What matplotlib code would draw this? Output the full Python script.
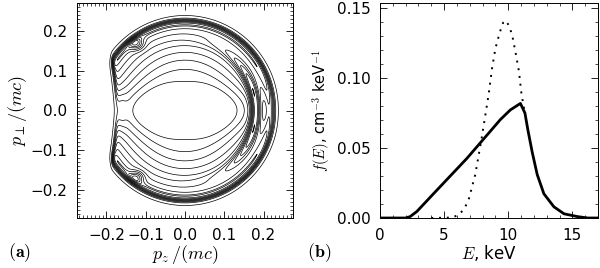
import numpy as np
import matplotlib
matplotlib.use('Agg')
import matplotlib.pyplot as plt
from matplotlib.ticker import MultipleLocator

plt.rcParams['mathtext.fontset'] = 'cm'
plt.rcParams['font.family'] = ['DejaVu Sans']

# ---- panel (b): energy distributions ----
E_solid = [0, 2.0, 2.35, 2.87, 4.17, 5.48, 6.78, 8.08, 9.39, 10.17, 10.95, 11.3,
           11.55, 11.87, 12.26, 12.78, 13.56, 14.35, 15.4, 16.2, 17]
f_solid = [0, 0, 0.001, 0.0046, 0.0173, 0.030, 0.0426, 0.0564, 0.0703, 0.0772, 0.0818, 0.075,
           0.062, 0.047, 0.031, 0.0173, 0.008, 0.003, 0.001, 0, 0]

E_dot = [4.0, 5.5, 6.0, 6.52, 6.9, 7.43, 7.96, 8.48, 8.74, 9.0, 9.34, 9.6, 9.8,
         10.04, 10.3, 10.56, 10.83, 11.03, 11.3]
f_dot = [0, 0.0003, 0.0016, 0.0057, 0.0127, 0.031, 0.0588, 0.0887, 0.107, 0.121, 0.1325, 0.1394, 0.141,
         0.1376, 0.131, 0.1187, 0.105, 0.0887, 0.075]

# ---- panel (a): model of the electron distribution in momentum space ----
p_scale = 0.073                          # radial scale of the isotropic part
floor = 0.6                              # value at the centre
axis_dip = (2.3, 0.055, 0.06)            # depth, pz width, p_perp width
left_valley = (1.8, -0.155, 0.01, 0.045)  # depth, pz centre, pz width, p_perp width
p_max, rim_w = 0.226, 0.007              # outer shell edge
pz_cut, cut_bend, cut_w = -0.175, 0.013, 0.005
crescent = (0.18, 0.012, 0.8, 8.0)       # p0, width in p, width in theta, amp
ring = (0.214, 0.006, 0.8)
teardrop = (-0.124, 0.168, 0.018, 0.015, 4.0)
levels = [0.3] + [k + floor for k in range(1, 14)]

pz = np.linspace(-0.275, 0.275, 600)
pp = np.linspace(-0.27, 0.27, 600)
PZ, PP = np.meshgrid(pz, pp)
P = np.hypot(PZ, PP) + 1e-9
TH = np.arccos(PZ / P)

base = (P / p_scale)**2
d, wz, wq = axis_dip
dip = d * (1 - np.exp(-(PZ / wz)**2)) * np.exp(-(PP / wq)**2)
v, zc, zw, vq = left_valley
valley = v * 0.5 * (1 + np.tanh((zc - PZ) / zw)) * np.exp(-(PP / vq)**2)
core = np.clip(base - dip - valley, 0, None)
p0, wp, wt, amp = crescent
cres = amp * np.exp(-((P - p0) / wp)**2 - (TH / wt)**2)
rim = ring[2] * np.exp(-((P - ring[0]) / ring[1])**2)
z0, q0, sz, sq, amp = teardrop
tear = amp * (np.exp(-((PZ - z0) / sz)**2 - ((PP - q0) / sq)**2)
              + np.exp(-((PZ - z0) / sz)**2 - ((PP + q0) / sq)**2))
cliff = 0.5 * (1 - np.tanh((P - p_max) / rim_w))
edge = pz_cut - cut_bend * (PP / 0.14)**2
cliff_left = 0.5 * (1 + np.tanh((PZ - edge) / cut_w))
F = (floor + core + cres + rim + tear) * cliff * cliff_left

fig = plt.figure(figsize=(6.0, 2.68), dpi=100)
ax1 = fig.add_axes([77 / 600, 50 / 268, 216 / 600, 215 / 268])
ax2 = fig.add_axes([380 / 600, 50 / 268, 218 / 600, 215 / 268])

ax1.contour(PZ, PP, F, levels=levels, colors='k', linewidths=0.5)
ax1.set_xlim(-0.275, 0.275)
ax1.set_ylim(-0.27, 0.27)
ax1.set_xticks([-0.2, -0.1, 0.0, 0.1, 0.2])
ax1.set_yticks([-0.2, -0.1, 0.0, 0.1, 0.2])
ax1.xaxis.set_minor_locator(MultipleLocator(0.01))
ax1.yaxis.set_minor_locator(MultipleLocator(0.01))
ax1.set_xlabel(r'$p_z\,/(mc)$', fontsize=13, labelpad=0)
ax1.set_ylabel(r'$p_\perp/(mc)$', fontsize=13, labelpad=1)

ax2.plot(E_solid, f_solid, color='k', lw=2)
ax2.plot(E_dot, f_dot, color='k', lw=1.4, linestyle=(0, (1, 3)))
ax2.set_xlim(0, 17)
ax2.set_ylim(0, 0.1535)
ax2.set_xticks([0, 5, 10, 15])
ax2.set_yticks([0, 0.05, 0.10, 0.15])
ax2.set_yticklabels(['0.00', '0.05', '0.10', '0.15'])
ax2.xaxis.set_minor_locator(MultipleLocator(1))
ax2.yaxis.set_minor_locator(MultipleLocator(0.01))
ax2.set_xlabel(r'$E$, keV', fontsize=12, labelpad=0)
ax2.set_ylabel(r'$f(E)$, cm$^{-3}$ keV$^{-1}$', fontsize=10.5, labelpad=3)

for ax in (ax1, ax2):
    ax.tick_params(which='both', direction='in', top=True, right=True, labelsize=11, pad=7)
    ax.tick_params(which='major', length=5, width=0.6)
    ax.tick_params(which='minor', length=2.5, width=0.5)
    for s in ax.spines.values():
        s.set_linewidth(0.7)

fig.text(8 / 600, 0.04, r'$\mathbf{(a)}$', fontsize=13)
fig.text(307 / 600, 0.04, r'$\mathbf{(b)}$', fontsize=13)

fig.savefig('out.png', dpi=100)
